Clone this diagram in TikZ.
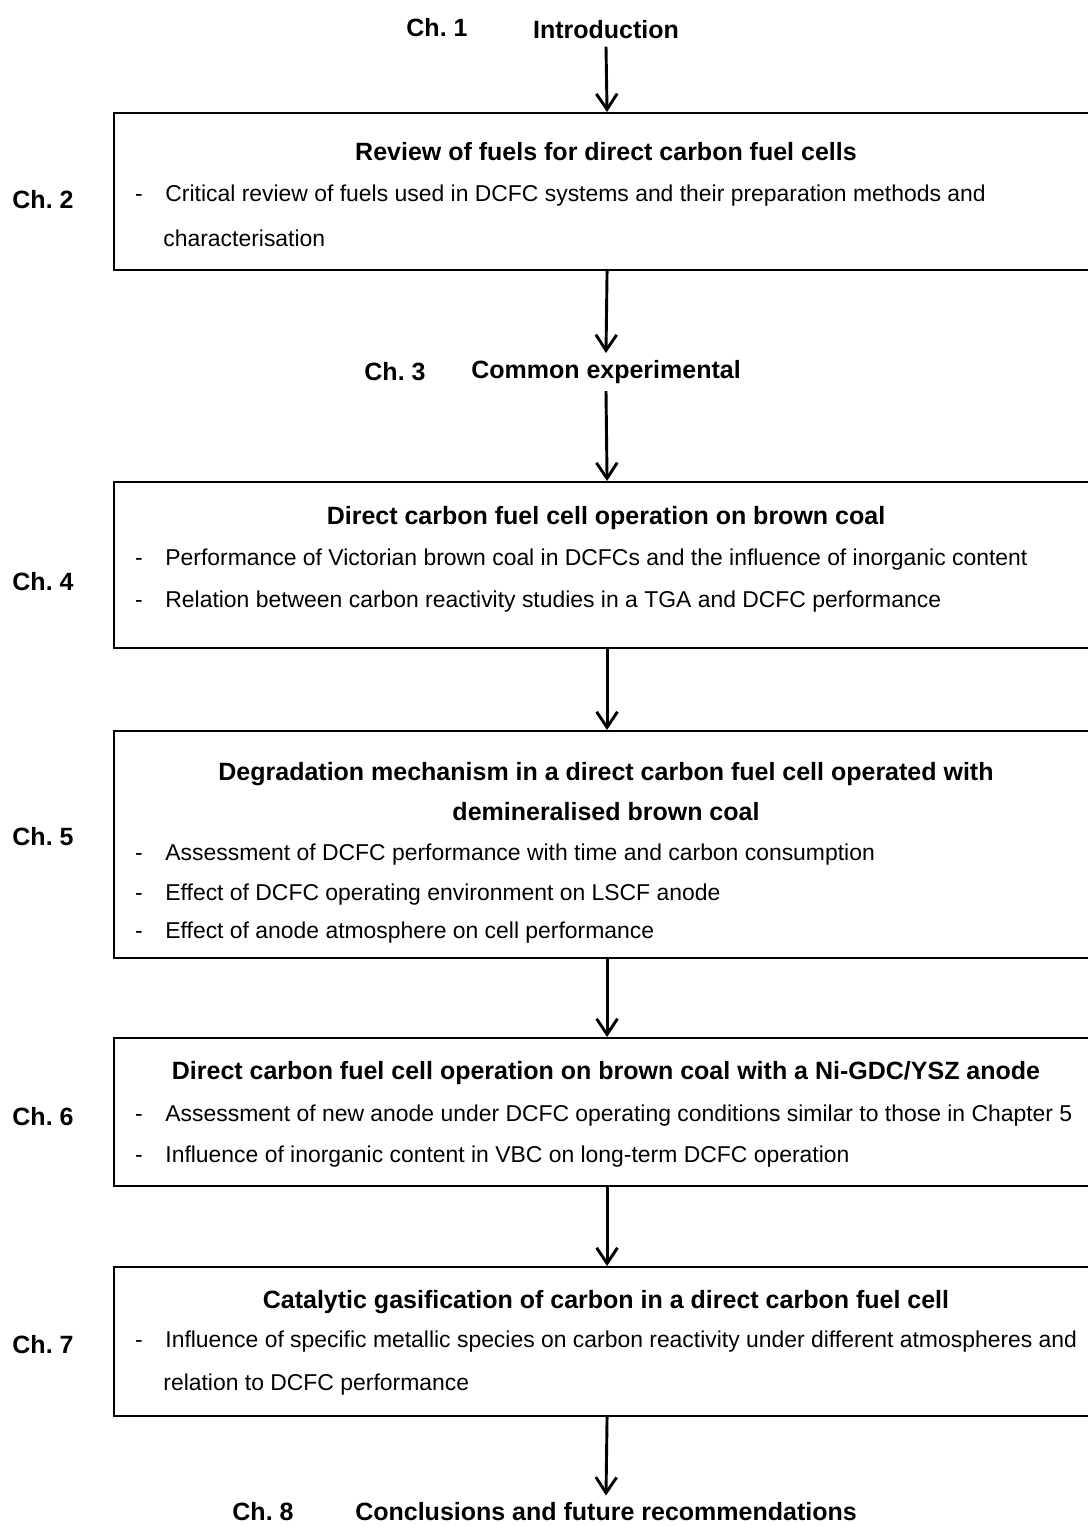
\documentclass[tikz,border=0pt]{standalone}
\usepackage{fontspec}
\setmainfont{Liberation Sans}
\usetikzlibrary{arrows.meta,positioning}
\frenchspacing

\tikzset{
  chlabel/.style={font=\fontsize{12}{14}\selectfont\bfseries},
  boxtitle/.style={font=\fontsize{12}{14}\selectfont\bfseries},
  item/.style={font=\fontsize{11}{13}\selectfont, anchor=west, inner sep=0pt},
  bulletdash/.style={font=\fontsize{11}{13}\selectfont, anchor=base, inner sep=0pt},
  chbox/.style={draw, line width=1pt, anchor=north west, minimum width=473.3pt, inner sep=0pt},
  flow/.style={-{Straight Barb[length=7.5pt,width=10pt]}, line width=1.4pt},
}

\begin{document}
\begin{tikzpicture}[x=0.48pt, y=-0.48pt]
        \useasboundingbox (0,0) rectangle (1087,1526);
        \coordinate (dashcol) at (139,0);

        % Ch. 1
        \node[chlabel] (ch1) at (437,28) {Ch. 1};
        \node[boxtitle] (intro) at (606,30) {Introduction};

        % Ch. 2
        \node[chbox, minimum height=75.4pt] (rev) at (113,112) {};
        \node[chlabel] (ch2) at (43,200) {Ch. 2};
        \node[boxtitle] (revt) at (606,152) {Review of fuels for direct carbon fuel cells};
        \node[item] (reva) at (165,196) {Critical review of fuels used in DCFC systems and their preparation methods and};
        \node[item] (revb) at (163,238) {characterisation};
        \node[bulletdash] (revd) at (reva.base -| dashcol) {-};

        % Ch. 3
        \node[chlabel] (ch3) at (395,372) {Ch. 3};
        \node[boxtitle] (common) at (606,372) {Common experimental};

        % Ch. 4
        \node[chbox, minimum height=79.7pt] (coal) at (113,481) {};
        \node[chlabel] (ch4) at (43,582) {Ch. 4};
        \node[boxtitle] (coalt) at (606,518) {Direct carbon fuel cell operation on brown coal};
        \node[item] (coala) at (165,560) {Performance of Victorian brown coal in DCFCs and the influence of inorganic content};
        \node[item] (coalb) at (165,602) {Relation between carbon reactivity studies in a TGA and DCFC performance};
        \node[bulletdash] (coald1) at (coala.base -| dashcol) {-};
        \node[bulletdash] (coald2) at (coalb.base -| dashcol) {-};

        % Ch. 5
        \node[chbox, minimum height=109pt] (degr) at (113,730) {};
        \node[chlabel] (ch5) at (43,837) {Ch. 5};
        \node[boxtitle] (degrt) at (606,774) {Degradation mechanism in a direct carbon fuel cell operated with};
        \node[boxtitle] (degrs) at (606,812) {demineralised brown coal};
        \node[item] (degra) at (165,855) {Assessment of DCFC performance with time and carbon consumption};
        \node[item] (degrb) at (165,895) {Effect of DCFC operating environment on LSCF anode};
        \node[item] (degrc) at (165,933) {Effect of anode atmosphere on cell performance};
        \node[bulletdash] (degrd1) at (degra.base -| dashcol) {-};
        \node[bulletdash] (degrd2) at (degrb.base -| dashcol) {-};
        \node[bulletdash] (degrd3) at (degrc.base -| dashcol) {-};

        % Ch. 6
        \node[chbox, minimum height=71pt] (nigdc) at (113,1037) {};
        \node[chlabel] (ch6) at (43,1117) {Ch. 6};
        \node[boxtitle] (nigdct) at (606,1073) {Direct carbon fuel cell operation on brown coal with a Ni-GDC/YSZ anode};
        \node[item] (nigdca) at (165,1116) {Assessment of new anode under DCFC operating conditions similar to those in Chapter 5};
        \node[item] (nigdcb) at (165,1157) {Influence of inorganic content in VBC on long-term DCFC operation};
        \node[bulletdash] (nigdcd1) at (nigdca.base -| dashcol) {-};
        \node[bulletdash] (nigdcd2) at (nigdcb.base -| dashcol) {-};

        % Ch. 7
        \node[chbox, minimum height=71.5pt] (cat) at (113,1266) {};
        \node[chlabel] (ch7) at (43,1345) {Ch. 7};
        \node[boxtitle] (catt) at (606,1302) {Catalytic gasification of carbon in a direct carbon fuel cell};
        \node[item] (cata) at (165,1342) {Influence of specific metallic species on carbon reactivity under different atmospheres and};
        \node[item] (catb) at (163,1385) {relation to DCFC performance};
        \node[bulletdash] (catd) at (cata.base -| dashcol) {-};

        % Ch. 8
        \node[chlabel] (ch8) at (263,1512) {Ch. 8};
        \node[boxtitle] (concl) at (606,1512) {Conclusions and future recommendations};

        % Flow
        \draw[flow] (intro.south) -- (rev.north);
        \draw[flow] (rev.south) -- (common.north);
        \draw[flow] (common.south) -- (coal.north);
        \draw[flow] (coal.south) -- (degr.north);
        \draw[flow] (degr.south) -- (nigdc.north);
        \draw[flow] (nigdc.south) -- (cat.north);
        \draw[flow] (cat.south) -- (concl.north);

    \end{tikzpicture}
\end{document}
